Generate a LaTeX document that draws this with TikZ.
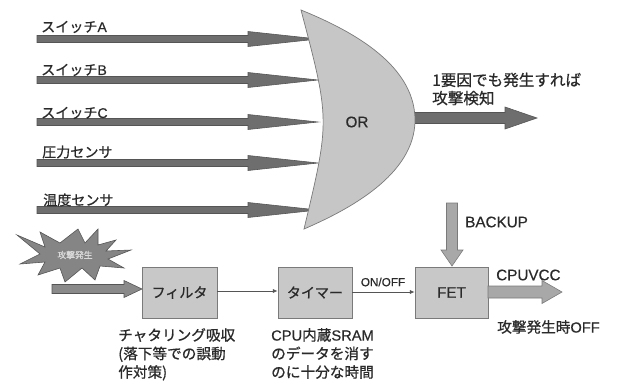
\documentclass[tikz,border=0pt]{standalone}
\usepackage{fontspec}
\setmainfont{Liberation Sans}[FakeBold=0.5]
\newfontfamily\jp{Noto Sans CJK JP}[FakeBold=0.8]
\usetikzlibrary{arrows.meta}
\definecolor{txt}{HTML}{2A2A2A}
\definecolor{darkfill}{HTML}{6E6E6E}
\definecolor{darkedge}{HTML}{555555}
\definecolor{midfill}{HTML}{8A8A8A}
\definecolor{lightfill}{HTML}{A8A8A8}
\definecolor{lightedge}{HTML}{7A7A7A}
\definecolor{gatefill}{HTML}{C6C6C6}
\definecolor{boxfill}{HTML}{C8C8C8}
\definecolor{burst}{HTML}{858585}
% horizontal fat arrow: style, x1, x2, y, shaft half, head half, head length
\newcommand\hfat[7]{%
  \filldraw[#1] (#2,#4-#5) -- (#3-#7,#4-#5) -- (#3-#7,#4-#6) -- (#3,#4)
    -- (#3-#7,#4+#6) -- (#3-#7,#4+#5) -- (#2,#4+#5) -- cycle;}
\tikzset{
  darkarrow/.style={fill=darkfill, draw=darkedge, line width=0.5pt, line join=miter},
  midarrow/.style={fill=midfill, draw=darkedge, line width=0.5pt},
  lightarrow/.style={fill=lightfill, draw=lightedge, line width=0.5pt},
  blockbox/.style={draw=lightedge, fill=boxfill, line width=0.6pt,
    minimum width=#1*0.03cm, minimum height=51*0.03cm, inner sep=0pt,
    font=\jp\fontsize{12}{14}\selectfont, text=txt},
  lbl/.style={anchor=west, inner sep=0pt, text=txt, font=\jp\fontsize{12}{14}\selectfont},
  note/.style={anchor=north west, inner sep=0pt, align=left, text=txt,
    font=\jp\fontsize{12.5}{15.8}\selectfont},
  thinarrow/.style={draw=darkedge, line width=0.7pt, -{Latex[length=4pt,width=3.5pt]}},
}
\begin{document}
\begin{tikzpicture}[x=0.03cm, y=-0.03cm]
\useasboundingbox (0,0) rectangle (621,386);
\fill[white] (0,0) rectangle (621,386);

% input arrows (behind the gate)
\hfat{darkarrow}{37}{318}{39}{3.5}{7.5}{70}
\hfat{darkarrow}{37}{318}{80}{3.5}{7.5}{70}
\hfat{darkarrow}{37}{318}{122}{3.5}{7.5}{70}
\hfat{darkarrow}{37}{318}{163}{3.5}{7.5}{70}
\hfat{darkarrow}{37}{318}{210}{3.5}{7.5}{70}

% output arrow
\hfat{darkarrow}{405}{537}{118}{5.5}{11}{32}

% OR gate
\filldraw[fill=gatefill, draw=lightedge, line width=0.6pt]
  (301,10) .. controls (345,28) and (415,62) .. (415,120)
  .. controls (415,175) and (348,210) .. (304,229)
  .. controls (330,120) .. (301,10) -- cycle;
\node[text=txt, font=\fontsize{13}{15}\selectfont] (or) at (357,122) {OR};

% input labels
\node[lbl] (la) at (41,27) {スイッチ\rmfamily A};
\node[lbl] (lb) at (41,70) {スイッチ\rmfamily B};
\node[lbl] (lc) at (41,113) {スイッチ\rmfamily C};
\node[lbl] (ld) at (42,152) {圧力センサ};
\node[lbl] (le) at (43,200) {温度センサ};

% output label
\node[anchor=west, inner sep=0pt, align=left, text=txt,
  font=\jp\fontsize{13.3}{15.5}\selectfont] (detect) at (432,89)
  {1要因でも発生すれば\\攻撃検知};

% starburst
\filldraw[fill=burst, draw=darkedge, line width=0.5pt, line join=miter]
  (17,235) -- (45,247) -- (40,232) -- (60,243) -- (78,229) -- (85,243)
  -- (98,229) -- (98,245) -- (116,240) -- (106,251) -- (131,250) -- (108,259)
  -- (124,268) -- (100,266) -- (95,280) -- (82,268) -- (65,282) -- (60,268)
  -- (38,275) -- (45,262) -- (20,264) -- (40,254) -- cycle;
\node[text=white!85!black, inner sep=0pt, font=\jp\fontsize{7.5}{9}\selectfont] (attack) at (75,255) {攻撃発生};

% boxes
\node[blockbox=75] (filt) at (179.5,292.5) {フィルタ};
\node[blockbox=74] (timer) at (315,292.5) {タイマー};
\node[blockbox=73, font=\fontsize{13}{15}\selectfont] (fet) at (451.5,292.5) {FET};

% input arrow to filter
\hfat{midarrow}{52}{142}{289}{4.5}{8.5}{18}

% thin connectors
\draw[thinarrow] (filt.east |- 0,291) -- (timer.west |- 0,291);
\draw[thinarrow] (timer.east |- 0,292) -- (fet.west |- 0,292);
\node[text=txt, inner sep=0pt, font=\fontsize{10}{12}\selectfont] (onoff) at (383,282) {ON/OFF};

% BACKUP arrow
\filldraw[lightarrow] (446.5,203) -- (457.5,203) -- (457.5,250) -- (463,250)
  -- (452,266) -- (441,250) -- (446.5,250) -- cycle;
\node[anchor=west, inner sep=0pt, text=txt, font=\fontsize{13}{15}\selectfont] (backup) at (465,222) {BACKUP};

% CPUVCC arrow
\hfat{lightarrow}{488}{562}{292}{6}{11.5}{20}
\node[anchor=west, inner sep=0pt, text=txt, font=\fontsize{13}{15}\selectfont] (vcc) at (496,275) {CPUVCC};
\node[anchor=west, inner sep=0pt, text=txt, font=\jp\fontsize{12.5}{15}\selectfont] (off) at (497,327) {攻撃発生時\rmfamily OFF};

% notes
\node[note] (n1) at (118,328) {チャタリング吸収\\(落下等での誤動\\作対策)};
\node[note] (n2) at (271,328) {{\rmfamily CPU}内蔵{\rmfamily SRAM}\\のデータを消す\\のに十分な時間};
\end{tikzpicture}
\end{document}
